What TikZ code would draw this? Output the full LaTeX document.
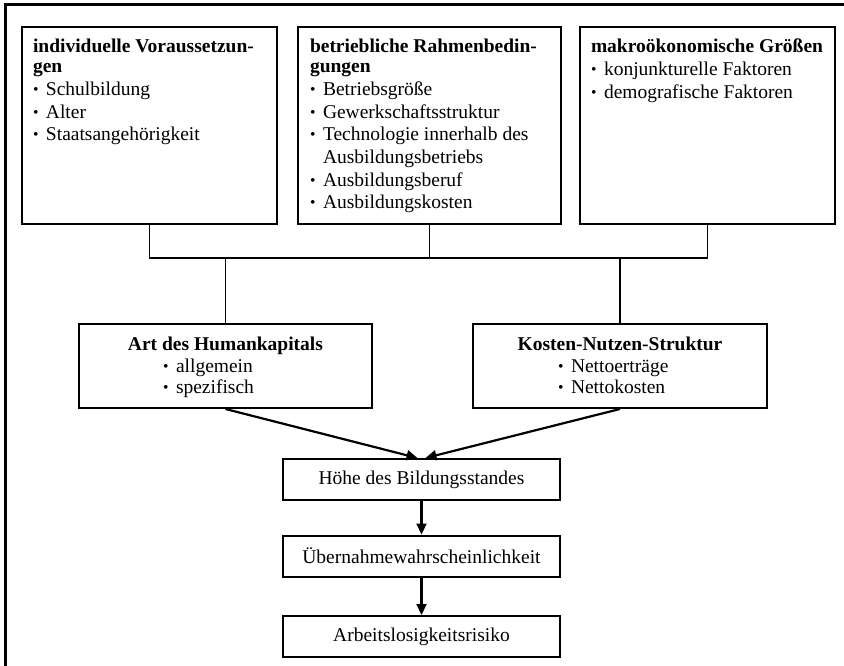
\documentclass[tikz,border=0pt]{standalone}
\usepackage{fontspec}
\setmainfont{Liberation Serif}
\usetikzlibrary{arrows.meta}

\newcommand{\itm}{\makebox[13pt][l]{\raisebox{1pt}{\scalebox{0.8}{\textbullet}}}}
\newcommand{\boxtext}[3]{\parbox[c][#2][t]{#1}{\begin{tabular}[t]{@{}l@{}}#3\end{tabular}}}

\begin{document}
\begin{tikzpicture}[x=1pt, y=-1pt,
  every node/.style={font=\fontsize{19.5pt}{22.7pt}\selectfont},
  topbox/.style={draw, line width=2pt, anchor=north west, inner ysep=9.8pt},
  midbox/.style={draw, line width=2pt, anchor=north west, inner xsep=0pt, inner ysep=11pt},
  resultbox/.style={draw, line width=2pt, minimum width=277pt, minimum height=41pt},
  link/.style={line width=1.5pt},
  arr/.style={line width=2.2pt, -{Triangle[length=11pt,width=10pt]}}]
\useasboundingbox (0,0) rectangle (844,666);
% frame
\draw[line width=3pt] (5,666) -- (5,5) -- (844,5);

% factors
\node[topbox, inner xsep=11pt] (indiv) at (21,26) {\boxtext{233pt}{177.4pt}{%
  \textbf{individuelle Voraussetzun-}\\[-2.7pt]
  \textbf{gen}\\
  \itm Schulbildung\\
  \itm Alter\\
  \itm Staatsangehörigkeit}};
\node[topbox, inner xsep=12pt] (betr) at (297,26) {\boxtext{239pt}{177.4pt}{%
  \textbf{betriebliche Rahmenbedin-}\\[-2.7pt]
  \textbf{gungen}\\
  \itm Betriebsgröße\\
  \itm Gewerkschaftsstruktur\\
  \itm Technologie innerhalb des\\
  \hspace*{13pt}Ausbildungsbetriebs\\
  \itm Ausbildungsberuf\\
  \itm Ausbildungskosten}};
\node[topbox, inner xsep=11pt] (makro) at (579,26) {\boxtext{233pt}{177.4pt}{%
  \textbf{makroökonomische Größen}\\
  \itm konjunkturelle Faktoren\\
  \itm demografische Faktoren}};

% intermediate
\node[midbox] (art) at (78,323) {\boxtext{293pt}{62pt}{%
  \makebox[293pt]{\textbf{Art des Humankapitals}}\\[-1.2pt]
  \hspace*{84pt}\itm allgemein\\[-1.2pt]
  \hspace*{84pt}\itm spezifisch}};
\node[midbox] (kosten) at (472,323) {\boxtext{294pt}{62pt}{%
  \makebox[294pt]{\textbf{Kosten-Nutzen-Struktur}}\\[-1.2pt]
  \hspace*{85pt}\itm Nettoerträge\\[-1.2pt]
  \hspace*{85pt}\itm Nettokosten}};

% results
\node[resultbox] (hoehe) at (421.5,479.5) {Höhe des Bildungsstandes};
\node[resultbox] (uebern) at (421.5,556) {Übernahmewahrscheinlichkeit};
\node[resultbox] (arbeit) at (421.5,636.5) {Arbeitslosigkeitsrisiko};

% connectors
\coordinate (bar) at (0,258);
\draw[link] (indiv.south) -- (indiv.south |- bar) -- (makro.south |- bar) -- (makro.south);
\draw[link] (betr.south) -- (betr.south |- bar);
\draw[link] (art.north) -- (art.north |- bar);
\draw[link] (kosten.north) -- (kosten.north |- bar);

\draw[arr] (art.south) -- ([xshift=-4pt]hoehe.north);
\draw[arr] (kosten.south) -- ([xshift=4pt]hoehe.north);
\draw[arr] (hoehe) -- (uebern);
\draw[arr] (uebern) -- (arbeit);
\end{tikzpicture}
\end{document}
